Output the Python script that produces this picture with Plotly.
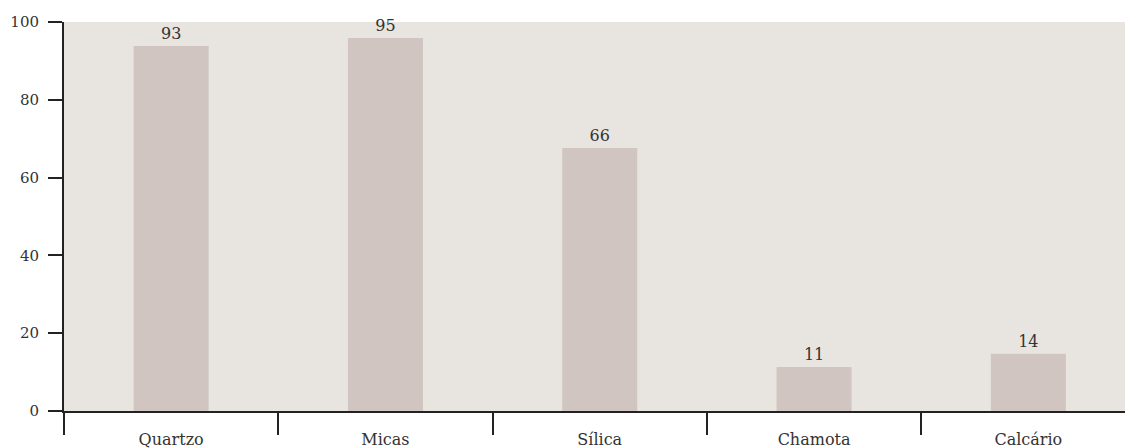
import plotly.graph_objects as go

categories = ["Quartzo", "Micas", "Sílica", "Chamota", "Calcário"]
values = [93.8, 95.9, 67.6, 11.3, 14.7]
value_labels = ["93", "95", "66", "11", "14"]
y_ticks = [0, 20, 40, 60, 80, 100]

FONT = "DejaVu Serif"
fig = go.Figure(go.Bar(
    x=categories, y=values, text=value_labels, textposition="outside",
    marker=dict(color="#D0C5C0", line=dict(width=0)),
    width=0.35, cliponaxis=False,
    textfont=dict(family=FONT, size=16, color="#333333"),
    hoverinfo="skip",
))
fig.update_layout(
    width=1125, height=448,
    margin=dict(l=64, r=0, t=22, b=37, autoexpand=False),
    paper_bgcolor="white", plot_bgcolor="#E8E4DF",
    font=dict(family=FONT, size=16, color="#333333"),
    showlegend=False,
)
fig.update_xaxes(
    range=[-0.5, 4.451], tickson="boundaries", ticks="outside", ticklen=22,
    tickwidth=2, tickcolor="#222222", showline=True, linecolor="#222222",
    linewidth=2, showgrid=False, ticklabelstandoff=13, automargin=False,
    tickfont=dict(family=FONT, size=16, color="#333333"),
)
fig.update_yaxes(
    range=[0, 100], tickvals=y_ticks, ticks="outside", ticklen=14,
    tickwidth=2, tickcolor="#222222", showline=True, linecolor="#222222",
    linewidth=2, showgrid=False, zeroline=False, ticklabelstandoff=6,
    automargin=False,
    tickfont=dict(family=FONT, size=15, color="#333333"),
)
fig.write_html(
    "out.html",
    config={"displayModeBar": False},
    post_script="document.body.style.margin='0px';document.body.style.overflow='hidden';",
)
